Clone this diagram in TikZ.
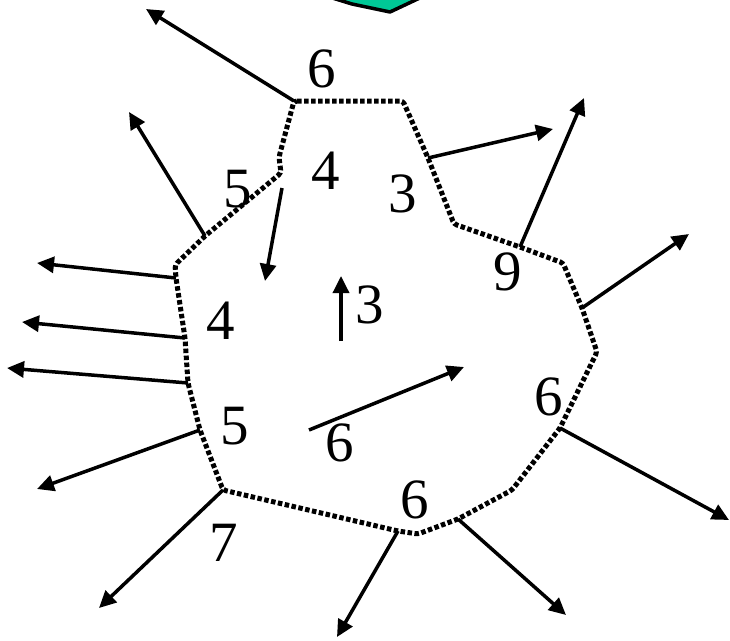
\documentclass[tikz,border=0pt]{standalone}
\usepackage{fontspec}
\setmainfont{Liberation Serif}
\usetikzlibrary{arrows.meta}
\definecolor{tealfill}{RGB}{0,200,150}
\tikzset{
  boundary/.style={line width=5pt, dash pattern=on 4.5pt off 2.5pt, rounded corners=3pt},
  flow/.style={line width=3.5pt, -{Triangle[length=17pt,width=16pt]}},
  num/.style={inner sep=0pt, font=\fontsize{57}{59}\selectfont},
}
\begin{document}
\begin{tikzpicture}[x=1pt,y=-1pt]
\clip (0,0) rectangle (730,640);
\fill[white] (0,0) rectangle (730,640);
% teal shape at the top
\draw[fill=tealfill, line width=3.5pt, line join=round] (326,-4) -- (352,4) -- (390,12) -- (424,-4) -- cycle;
% boundary vertices
\coordinate (A) at (294,101);
\coordinate (B) at (403,101);
\coordinate (C) at (428,158);
\coordinate (D) at (454,224);
\coordinate (E) at (520,247);
\coordinate (F) at (563,263);
\coordinate (G) at (582,308);
\coordinate (H) at (597,352);
\coordinate (I) at (560,428);
\coordinate (J) at (512,490);
\coordinate (K) at (458,519);
\coordinate (L) at (418,534);
\coordinate (M) at (398,531);
\coordinate (N) at (223,490);
\coordinate (O) at (200,430);
\coordinate (P) at (188,383);
\coordinate (Q) at (185,338);
\coordinate (R) at (176,278);
\coordinate (S) at (175,265);
\coordinate (T) at (205,236);
\coordinate (U) at (281,173);
\coordinate (V) at (279,157);
\draw[boundary] (A) -- (B) -- (C) -- (D) -- (E) -- (F) -- (G) -- (H) -- (I) -- (J) -- (K) -- (L) -- (M) -- (N) -- (O) -- (P) -- (Q) -- (R) -- (S) -- (T) -- (U) -- (V) -- cycle;
% arrow ends
\coordinate (a1) at (146,9);
\coordinate (a2) at (129,112);
\coordinate (a3) at (37,263);
\coordinate (a4) at (22,322);
\coordinate (a5) at (7,368);
\coordinate (a6) at (37,489);
\coordinate (a7) at (99,608);
\coordinate (a8) at (337,637);
\coordinate (a9) at (566,615);
\coordinate (a10) at (729,520);
\coordinate (a11) at (689,234);
\coordinate (a12) at (584,98);
\coordinate (a13) at (553,129);
% outward arrows
\draw[flow] (A) -- (a1);
\draw[flow] (T) -- (a2);
\draw[flow] (R) -- (a3);
\draw[flow] (Q) -- (a4);
\draw[flow] (P) -- (a5);
\draw[flow] (O) -- (a6);
\draw[flow] (N) -- (a7);
\draw[flow] (M) -- (a8);
\draw[flow] (K) -- (a9);
\draw[flow] (I) -- (a10);
\draw[flow] (G) -- (a11);
\draw[flow] (E) -- (a12);
\draw[flow] (C) -- (a13);
% inner arrows
\coordinate (b1s) at (282,188);
\coordinate (b1e) at (265,281);
\coordinate (b2s) at (341,341);
\coordinate (b2e) at (341,276);
\coordinate (b3s) at (309,430);
\coordinate (b3e) at (464,367);
\draw[flow] (b1s) -- (b1e);
\draw[flow] (b2s) -- (b2e);
\draw[flow] (b3s) -- (b3e);
% labels
\node[num] (l1) at (322,69) {6};
\node[num] (l2) at (238,189) {5};
\node[num] (l3) at (326,171) {4};
\node[num] (l4) at (403,194) {3};
\node[num] (l5) at (370,305) {3};
\node[num] (l6) at (221,321) {4};
\node[num] (l7) at (508,272) {9};
\node[num] (l8) at (235,426) {5};
\node[num] (l9) at (549,397) {6};
\node[num] (l10) at (340,443) {6};
\node[num] (l11) at (415,500) {6};
\node[num] (l12) at (224,543) {7};
\end{tikzpicture}
\end{document}
